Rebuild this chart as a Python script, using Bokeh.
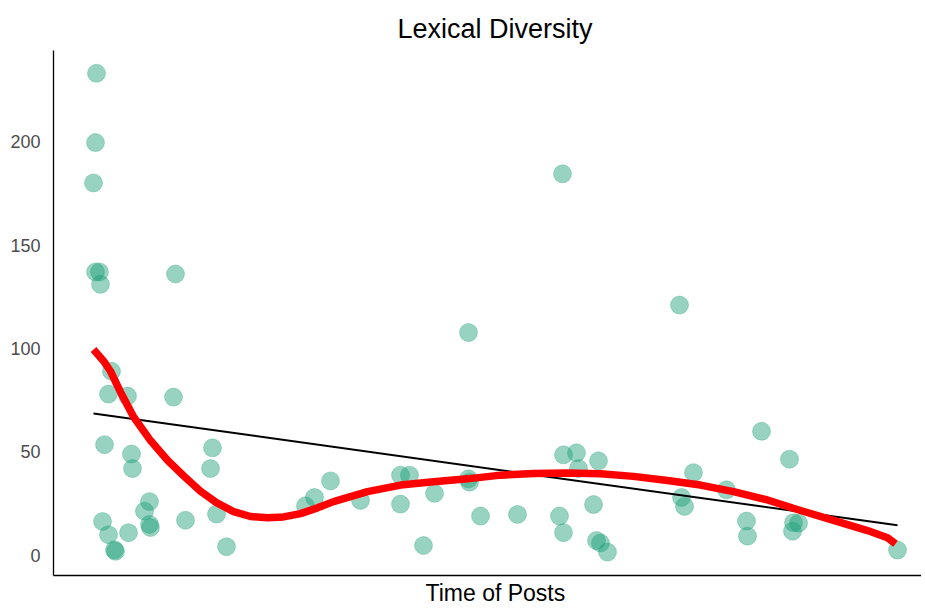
import numpy as np
from bokeh.plotting import figure
from bokeh.models import FixedTicker, Range1d, Title
from bokeh.embed import file_html
from bokeh.resources import INLINE

# Time of post (arbitrary time units) and lexical diversity values
post_time = [43, 42, 40, 42, 46, 47, 122, 58, 55, 74, 120, 51, 78, 79, 159, 157,
             96, 91, 96, 97, 49, 55, 61, 62, 75, 132, 163, 173, 252, 261, 277, 307,
             347, 356, 347, 381, 370, 415, 415, 416, 427, 464, 509, 510, 523, 525,
             545, 506, 510, 540, 543, 547, 554, 626, 708, 736, 640, 628, 631, 673,
             693, 694, 740, 745, 739, 844]
lex_div = [233, 199.5, 180, 137, 137, 131, 136, 89, 78, 77, 76.5, 53.5, 49, 42, 52, 42,
           26, 21.4, 15, 13.5, 16.4, 10, 2.7, 2, 11, 17, 20, 4.2, 24, 28, 36, 26.6,
           38.8, 38.8, 24.8, 30, 4.8, 107.7, 37, 35.4, 19, 19.8, 184.4, 48.6, 49.6, 42,
           45.7, 19, 11, 24.6, 7.2, 6, 1.6, 121, 60, 46.5, 40, 28, 23.7, 31.7,
           16.6, 9.3, 15.8, 15.6, 11.7, 2.6]

# Smoothed (loess-like) curve
smooth_time = [40, 50, 57, 68, 80, 97, 114, 130, 147, 163, 180, 197, 214, 230, 247, 264,
               280, 314, 347, 380, 414, 447, 480, 514, 547, 580, 614, 647, 680, 714,
               747, 780, 814, 834, 842]
smooth_val = [99.5, 94, 89, 78, 67, 55.5, 46, 38.5, 31, 25.5, 21.2, 18.8, 18.2, 18.6,
              20.2, 23, 26, 30.8, 34, 35.6, 37, 38.8, 39.6, 39.8, 39.5, 38.2, 36.2, 34,
              30.8, 26.8, 21.7, 16.9, 12, 8.5, 5.6]

y_ticks = [0, 50, 100, 150, 200]
title_text = "Lexical Diversity"
x_label = "Time of Posts"

x = np.array(post_time, dtype=float)
y = np.array(lex_div, dtype=float)
slope, intercept = np.polyfit(x, y, 1)
fit_x = np.array([x.min(), x.max()])
fit_y = intercept + slope * fit_x

p = figure(width=921, height=608, output_backend="svg", toolbar_location=None,
           x_range=Range1d(0, 868), y_range=Range1d(-9.7, 244),
           min_border_left=53, min_border_right=0, min_border_top=50, min_border_bottom=33,
           title=title_text)
p.title.align = "left"
p.title.offset = 344
p.title.text_font = "Liberation Sans"
p.title.text_font_size = "27px"
p.title.text_font_style = "normal"
p.title.text_color = "black"
p.title.standoff = 13

p.scatter(x, y, size=18, fill_color="#1B9E77", fill_alpha=0.45,
          line_color="#1B9E77", line_alpha=0.3)
p.line(fit_x, fit_y, line_color="black", line_width=2)
p.line(smooth_time, smooth_val, line_color="red", line_width=7.5, line_join="round")

p.grid.visible = False
p.outline_line_color = None
p.background_fill_color = "white"
p.border_fill_color = "white"

p.yaxis.ticker = FixedTicker(ticks=y_ticks)
p.yaxis.major_tick_line_color = None
p.yaxis.minor_tick_line_color = None
p.yaxis.major_label_text_font = "Liberation Sans"
p.yaxis.major_label_text_font_size = "18px"
p.yaxis.major_label_text_color = "#4D4D4D"
p.yaxis.major_label_standoff = 7
p.yaxis.axis_line_color = "black"
p.yaxis.axis_line_width = 1.3

p.xaxis.ticker = FixedTicker(ticks=[])
p.xaxis.major_tick_line_color = None
p.xaxis.minor_tick_line_color = None
p.xaxis.axis_line_color = "black"
p.xaxis.axis_line_width = 1.3

xlab = Title(text=x_label, align="left", offset=372, text_font="Liberation Sans",
             text_font_size="23px", text_font_style="normal", text_color="black",
             standoff=4)
p.add_layout(xlab, "below")

open("out.html", "w").write(file_html(p, INLINE))
